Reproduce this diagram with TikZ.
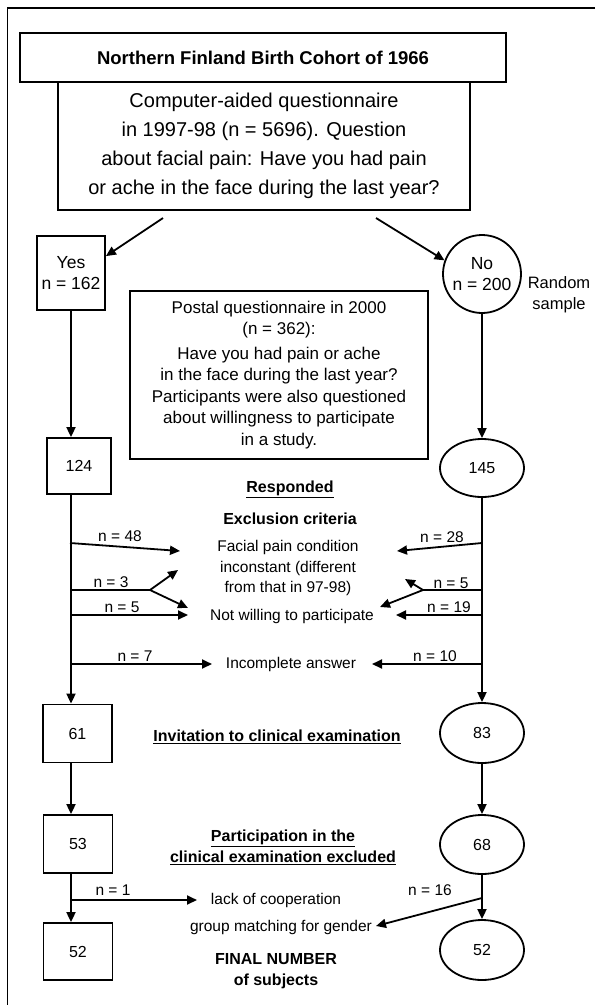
\documentclass[tikz,border=0pt]{standalone}
\usepackage{fontspec}
\setmainfont{Liberation Sans}
\usetikzlibrary{arrows.meta,shapes.geometric}
\tikzset{
	rbox/.style={draw, line width=1.8pt, inner sep=0pt, align=center},
	roval/.style={draw, ellipse, line width=1.8pt, inner sep=0pt, minimum width=84pt, minimum height=59pt, font=\fontsize{16}{19}\selectfont},
	numbox/.style={rbox, minimum width=69pt, minimum height=58pt, font=\fontsize{16}{19}\selectfont},
	flow/.style={line width=1.8pt, -{Triangle[length=10pt,width=9pt]}},
	bare/.style={line width=1.8pt},
	midtext/.style={font=\fontsize{15.5}{20.5}\selectfont, align=center, inner sep=0pt},
	nlab/.style={font=\fontsize{15.5}{18}\selectfont, inner sep=0pt},
	headtext/.style={font=\bfseries\fontsize{16}{21.5}\selectfont, align=center, inner sep=0pt},
}

\begin{document}
\begin{tikzpicture}[x=1pt, y=-1pt]
		%%%%% START %%%%%
		\useasboundingbox (0,0) rectangle (595,1005);
		\draw[line width=1.4pt] (595,8) -- (7.5,8) -- (7.5,1005);
		
		% top of the chart
		\node[rbox, minimum width=412pt, minimum height=128pt, font=\fontsize{20}{29}\selectfont] (quest) at (264,146)
			{Computer-aided questionnaire\\in 1997-98 (n = 5696). Question\\about facial pain: Have you had pain\\or ache in the face during the last year?};
		\node[rbox, minimum width=486pt, minimum height=49pt, font=\bfseries\fontsize{18.5}{22}\selectfont] (title) at (263,57.5)
			{Northern Finland Birth Cohort of 1966};
		
		\node[rbox, minimum width=68pt, minimum height=74pt, font=\fontsize{17.5}{21}\selectfont] (yes) at (71,273) {Yes\\n = 162};
		\node[draw, circle, line width=1.8pt, inner sep=0pt, minimum size=78pt, align=center, font=\fontsize{17.5}{21}\selectfont] (no) at (482,274) {No\\n = 200};
		\node[midtext, font=\fontsize{16.5}{21}\selectfont] (rand) at (559,295) {Random\\sample};
		
		\coordinate (qyes) at (163,218);
		\coordinate (qno) at (376,218);
		\draw[flow] (qyes) -- ([yshift=-21pt]yes.north east);
		\draw[flow] (qno) -- (no.160);
		
		\node[rbox, minimum width=298pt, minimum height=168pt, font=\fontsize{17}{21.5}\selectfont] (postal) at (279,375)
			{Postal questionnaire in 2000\\(n = 362):\\[3pt]Have you had pain or ache\\in the face during the last year?\\Participants were also questioned\\about willingness to participate\\in a study.};
		
		% responded
		\node[numbox, minimum width=64pt, minimum height=56pt] (n124) at (79,466) {124};
		\node[roval, minimum height=58pt] (n145) at (482,468) {145};
		\draw[flow] (yes.south) -- (yes.south |- n124.north);
		\draw[flow] (no.south) -- (n145.north);
		
		\node[headtext] (resp) at (290,489) {\underline{Responded}};
		\node[headtext] (excl) at (290,519) {Exclusion criteria};
		
		\node[midtext] (facial) at (288,568) {Facial pain condition\\inconstant (different\\from that in 97-98)};
		\node[midtext] (notwill) at (292,616) {Not willing to participate};
		\node[midtext] (incompl) at (291,664) {Incomplete answer};
		
		% invitation
		\node[numbox] (n61) at (77.5,733.5) {61};
		\node[roval, minimum height=60pt] (n83) at (482,733) {83};
		\draw[flow] (yes.south |- n124.south) -- (yes.south |- n61.north);
		\draw[flow] (n145.south) -- (n83.north);
		\node[headtext] (invit) at (277,737) {\underline{Invitation to clinical examination}};
		
		% exclusions, left side
		\coordinate (l48) at (70,543);
		\coordinate (l48e) at (180,551);
		\coordinate (l3) at (70,590);
		\coordinate (l3b) at (150,590);
		\coordinate (l3u) at (178,570);
		\coordinate (l3d) at (188,608);
		\coordinate (l5) at (70,615);
		\coordinate (l5e) at (188,615);
		\coordinate (l7) at (70,664);
		\coordinate (l7e) at (212,664);
		\draw[flow] (l48) -- (l48e);
		\draw[bare] (l3) -- (l3b);
		\draw[flow] (l3b) -- (l3u);
		\draw[flow] (l3b) -- (l3d);
		\draw[flow] (l5) -- (l5e);
		\draw[flow] (l7) -- (l7e);
		\node[nlab] (tl48) at (120,536) {n = 48};
		\node[nlab] (tl3) at (111,582) {n = 3};
		\node[nlab] (tl5) at (122,607) {n = 5};
		\node[nlab] (tl7) at (135,656) {n = 7};
		
		% exclusions, right side
		\coordinate (r28) at (482,543);
		\coordinate (r28e) at (397,551);
		\coordinate (r5) at (482,590);
		\coordinate (r5b) at (423,590);
		\coordinate (r5u) at (405,579);
		\coordinate (r5d) at (380,607);
		\coordinate (r19) at (482,615);
		\coordinate (r19e) at (396,615);
		\coordinate (r10) at (482,664);
		\coordinate (r10e) at (372,664);
		\draw[flow] (r28) -- (r28e);
		\draw[bare] (r5) -- (r5b);
		\draw[flow] (r5b) -- (r5u);
		\draw[flow] (r5b) -- (r5d);
		\draw[flow] (r19) -- (r19e);
		\draw[flow] (r10) -- (r10e);
		\node[nlab] (tr28) at (442,537) {n = 28};
		\node[nlab] (tr5) at (451,583) {n = 5};
		\node[nlab] (tr19) at (449,607) {n = 19};
		\node[nlab] (tr10) at (435,656) {n = 10};
		
		% clinical examination
		\node[numbox] (n53) at (78,844) {53};
		\node[roval] (n68) at (482,844.5) {68};
		\draw[flow] (yes.south |- n61.south) -- (yes.south |- n53.north);
		\draw[flow] (n83.south) -- (n68.north);
		\node[headtext] (partic) at (283,847.5) {\underline{Participation in the}\\\underline{clinical examination excluded}};
		
		\node[numbox, minimum height=57pt] (n52l) at (78,951.5) {52};
		\node[roval, minimum height=60pt] (n52r) at (482,950) {52};
		\draw[flow] (yes.south |- n53.south) -- (yes.south |- n52l.north);
		\draw[flow] (n68.south) -- (n52r.north);
		
		\coordinate (l1) at (70,900);
		\coordinate (l1e) at (197,900);
		\coordinate (r16) at (482,898);
		\coordinate (r16e) at (376,926);
		\draw[flow] (l1) -- (l1e);
		\draw[flow] (r16) -- (r16e);
		\node[nlab] (tl1) at (113,890) {n = 1};
		\node[nlab] (tr16) at (430,890) {n = 16};
		\node[midtext] (lack) at (276,900) {lack of cooperation};
		\node[midtext] (group) at (281,927) {group matching for gender};
		
		\node[headtext] (final) at (276,971) {FINAL NUMBER\\of subjects};
		%%%%% END %%%%%
\end{tikzpicture}
\end{document}
